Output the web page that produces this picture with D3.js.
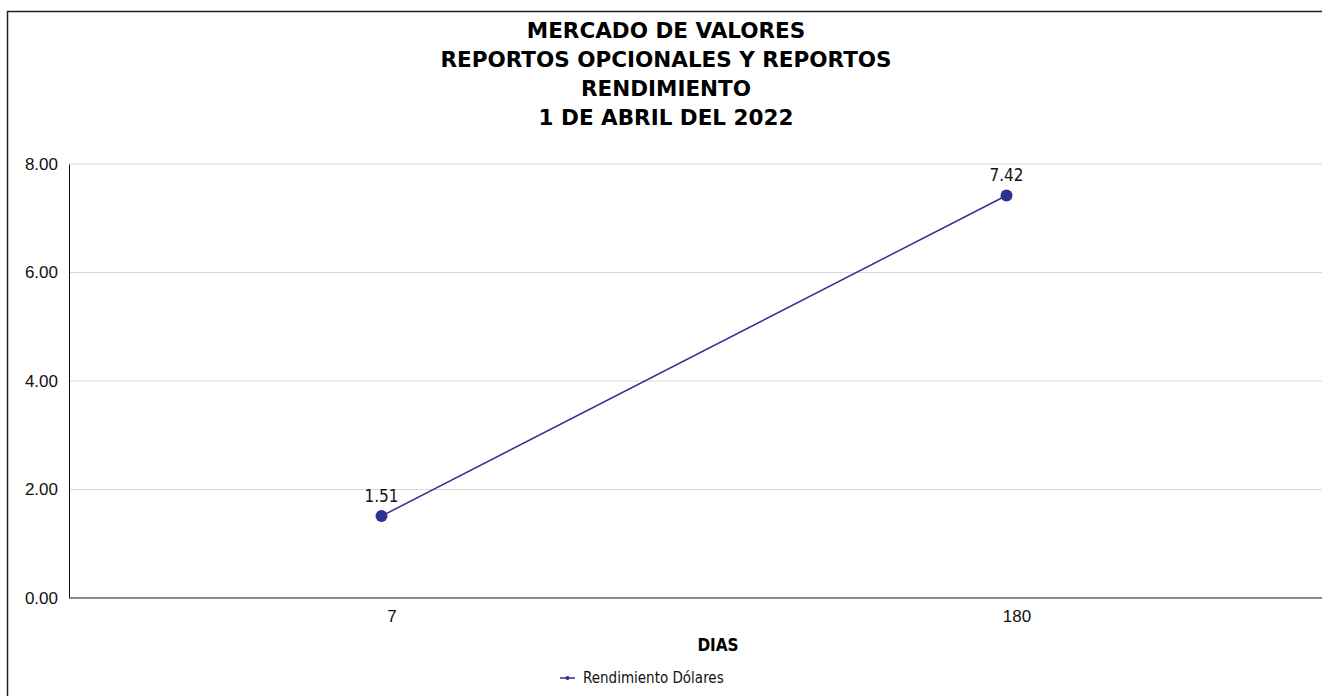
<!DOCTYPE html>
<html>
<head>
<meta charset="utf-8">
<script src="https://cdn.jsdelivr.net/npm/d3@7"></script>
<style>
  body { margin: 0; background: #fff; overflow: hidden; }
  svg { display: block; font-family: "DejaVu Sans Condensed", "DejaVu Sans", sans-serif; }
</style>
</head>
<body>
<div id="chart"></div>
<script>
// chart data
const titleLines = ["MERCADO DE VALORES", "REPORTOS OPCIONALES Y REPORTOS", "RENDIMIENTO", "1 DE ABRIL DEL 2022"];
const dias = ["7", "180"];
const rendimiento = [1.51, 7.42];
const yTicks = [0, 2, 4, 6, 8];
const seriesName = "Rendimiento Dólares";
const xTitle = "DIAS";

const width = 1322, height = 696;
const margin = { top: 164, right: 3, bottom: 98, left: 69 };
const color = "#2e3192";

const svg = d3.select("#chart").append("svg")
    .attr("width", width)
    .attr("height", height);

// outer frame, only left and top edges are in view
svg.append("path")
    .attr("d", `M7.5,${height}V11.5H${width}`)
    .attr("fill", "none")
    .attr("stroke", "#222")
    .attr("stroke-width", 1.5);

// title
svg.append("g").selectAll("text")
    .data(titleLines)
    .join("text")
    .attr("x", 666)
    .attr("y", (d, i) => 38 + i * 29)
    .attr("text-anchor", "middle")
    .attr("font-family", "'DejaVu Sans', sans-serif")
    .attr("font-weight", "bold")
    .attr("font-size", 21.5)
    .text(d => d);

const x = d3.scalePoint()
    .domain(dias)
    .range([margin.left, width - margin.right])
    .padding(0.5);

const y = d3.scaleLinear()
    .domain([0, 8])
    .range([height - margin.bottom, margin.top]);

// gridlines
svg.append("g").selectAll("line")
    .data(yTicks.filter(d => d > 0))
    .join("line")
    .attr("x1", margin.left).attr("x2", width)
    .attr("y1", d => y(d)).attr("y2", d => y(d))
    .attr("stroke", "#d9d9d9");

// y axis
const yAxis = svg.append("g")
    .attr("transform", `translate(${margin.left},0)`)
    .call(d3.axisLeft(y).tickValues(yTicks).tickFormat(d3.format(".2f")).tickSize(0).tickPadding(11));
yAxis.select(".domain").attr("stroke", "#111");
yAxis.selectAll("text").attr("font-size", 17).attr("fill", "#111");

// x axis
const xAxis = svg.append("g")
    .attr("transform", `translate(0,${y(0)})`)
    .call(d3.axisBottom(x).tickSize(0).tickPadding(12));
xAxis.select(".domain").attr("stroke", "#666").attr("stroke-width", 1.5).attr("d", `M${margin.left},0H${width}`);
xAxis.selectAll("text").attr("font-size", 17).attr("fill", "#111").attr("dx", 10);

svg.append("text")
    .attr("x", 718).attr("y", 651)
    .attr("text-anchor", "middle")
    .attr("font-weight", "bold")
    .attr("font-size", 17)
    .text(xTitle);

// series line
const pts = dias.map((d, i) => [d, rendimiento[i]]);
svg.append("path")
    .datum(pts)
    .attr("fill", "none")
    .attr("stroke", color)
    .attr("stroke-width", 1.5)
    .attr("d", d3.line().x(d => x(d[0])).y(d => y(d[1])));

svg.append("g").selectAll("circle")
    .data(pts)
    .join("circle")
    .attr("cx", d => x(d[0]))
    .attr("cy", d => y(d[1]))
    .attr("r", 6)
    .attr("fill", color);

svg.append("g").selectAll("text")
    .data(pts)
    .join("text")
    .attr("x", d => x(d[0]))
    .attr("y", d => y(d[1]) - 14)
    .attr("text-anchor", "middle")
    .attr("font-size", 17)
    .attr("fill", "#111")
    .text(d => d[1].toFixed(2));

// legend
const lg = svg.append("g").attr("transform", "translate(560,678)");
lg.append("line").attr("x1", 0).attr("x2", 15).attr("stroke", color).attr("stroke-width", 1.5);
lg.append("circle").attr("cx", 7.5).attr("r", 2).attr("fill", color);
lg.append("text").attr("x", 23).attr("dy", "0.35em").attr("font-size", 15).attr("fill", "#111").text(seriesName);
</script>
</body>
</html>
